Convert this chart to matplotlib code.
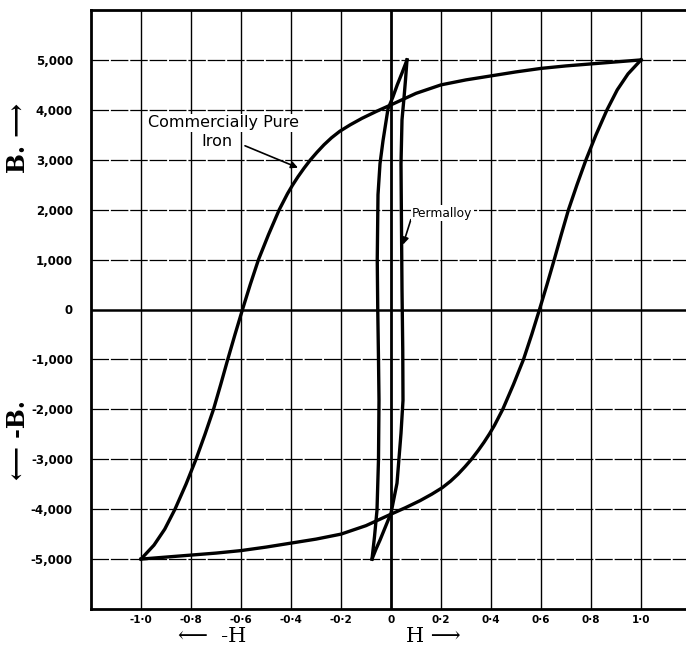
import numpy as np
import matplotlib
matplotlib.use('Agg')
import matplotlib.pyplot as plt

# Commercially pure iron, descending branch (H, B)
iron_H = [1.0, 0.9, 0.8, 0.7, 0.6, 0.5, 0.4, 0.3, 0.2, 0.1, 0.0, -0.058, -0.116, -0.163,
          -0.205, -0.238, -0.268, -0.296, -0.322, -0.348, -0.372, -0.394, -0.414, -0.447,
          -0.49, -0.53, -0.563, -0.594, -0.624, -0.653, -0.681, -0.710, -0.744, -0.780,
          -0.820, -0.864, -0.905, -0.948, -1.0]
iron_B = [5000, 4960, 4920, 4880, 4830, 4760, 4680, 4600, 4500, 4330, 4100, 3970, 3830, 3700,
          3570, 3440, 3300, 3150, 3000, 2830, 2660, 2490, 2320, 2000,
          1500, 1000, 500, 0, -500, -1000, -1500, -2000, -2500, -3000,
          -3500, -4000, -4400, -4720, -5000]

# Permalloy loop
perm_desc_H = [0.064, 0.045, 0.025, 0.007, -0.012, -0.032, -0.044, -0.052, -0.055, -0.053,
               -0.050, -0.048, -0.050, -0.056, -0.066, -0.076]
perm_desc_B = [5000, 4750, 4500, 4250, 4020, 3380, 2920, 2300, 1000, 0,
               -1000, -1820, -3000, -4020, -4550, -5000]
perm_asc_H = [-0.076, -0.060, -0.044, -0.022, 0.0, 0.024, 0.040, 0.048, 0.047, 0.044,
              0.042, 0.040, 0.044, 0.052, 0.058, 0.064]
perm_asc_B = [-5000, -4800, -4620, -4350, -4080, -3480, -2480, -1820, -800, 400,
              1640, 2920, 3800, 4240, 4600, 5000]

x_ticks = [-1.0, -0.8, -0.6, -0.4, -0.2, 0.0, 0.2, 0.4, 0.6, 0.8, 1.0]
x_labels = ['-1·0', '-0·8', '-0·6', '-0·4', '-0·2', '0', '0·2', '0·4', '0·6', '0·8', '1·0']
y_ticks = [5000, 4000, 3000, 2000, 1000, 0, -1000, -2000, -3000, -4000, -5000]
y_labels = ['5,000', '4,000', '3,000', '2,000', '1,000', '0', '-1,000', '-2,000',
            '-3,000', '-4,000', '-5,000']

W, H = 686, 647
fig = plt.figure(figsize=(W / 100, H / 100), dpi=100)
ax = fig.add_axes([91 / W, (H - 609) / H, 600 / W, 599 / H])
ax.set_xlim(-1.2, 1.2)
ax.set_ylim(-6000, 6000)

# grid
for xv in x_ticks:
    ax.axvline(xv, color='black', lw=2.0 if xv == 0 else 1.0, zorder=1)
for yv in y_ticks:
    if yv == 0:
        ax.axhline(yv, color='black', lw=1.8, zorder=1)
    else:
        ax.axhline(yv, color='black', lw=0.9, ls=(0, (14, 1.5)), zorder=1)

# iron loop: descending branch and its point reflection
ih = np.array(iron_H)
ib = np.array(iron_B)
ax.plot(ih, ib, color='black', lw=2.4, zorder=3, solid_joinstyle='round')
ax.plot(-ih, -ib, color='black', lw=2.4, zorder=3, solid_joinstyle='round')

ax.plot(perm_desc_H, perm_desc_B, color='black', lw=2.4, zorder=3)
ax.plot(perm_asc_H, perm_asc_B, color='black', lw=2.4, zorder=3)

ax.set_xticks(x_ticks)
ax.set_xticklabels(x_labels, fontsize=7.5, fontweight='bold')
ax.set_yticks(y_ticks)
ax.set_yticklabels(y_labels, fontsize=8.5, fontweight='bold')
ax.tick_params(length=0)
ax.tick_params(axis='x', pad=4)
ax.tick_params(axis='y', pad=13)
for s in ax.spines.values():
    s.set_linewidth(2.0)

# annotations
box = dict(boxstyle='square,pad=0.1', fc='white', ec='none')
ax.text(-0.672, 3740, 'Commercially Pure', ha='center', va='center', fontsize=11.5,
        bbox=box, zorder=4)
ax.text(-0.696, 3360, 'Iron', ha='center', va='center', fontsize=11.5,
        bbox=box, zorder=4)
ax.annotate('', xy=(-0.372, 2840), xytext=(-0.584, 3280), zorder=4,
            arrowprops=dict(arrowstyle='-|>', color='black', lw=1.2,
                            shrinkA=0, shrinkB=0, mutation_scale=10))
ax.annotate('Permalloy', xy=(0.048, 1300), xytext=(0.205, 1930),
            ha='center', va='center', fontsize=8.8,
            bbox=box,
            arrowprops=dict(arrowstyle='-|>', color='black', lw=1.2,
                            shrinkA=0, shrinkB=0, mutation_scale=10,
                            relpos=(0.0, 0.3)))

# axis direction labels
fig.text(18 / W, 1 - 138 / H, 'B. ⟶', rotation=90, ha='center', va='center',
         fontsize=17, fontweight='bold', family='DejaVu Serif')
fig.text(18 / W, 1 - 440 / H, '⟵ -B.', rotation=90, ha='center', va='center',
         fontsize=17, fontweight='bold', family='DejaVu Serif')
fig.text(212 / W, 0.5 / H, '⟵  -H', ha='center', va='bottom',
         fontsize=15, family='DejaVu Serif')
fig.text(433 / W, 0.5 / H, 'H ⟶', ha='center', va='bottom',
         fontsize=15, family='DejaVu Serif')

fig.savefig('out.png', dpi=100, facecolor='white')
